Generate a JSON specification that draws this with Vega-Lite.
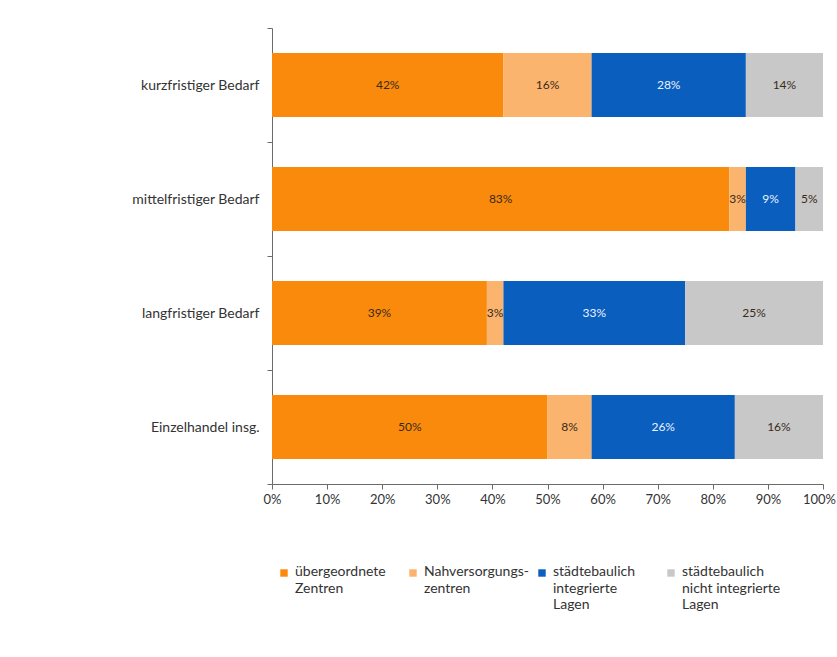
{
  "$schema": "https://vega.github.io/schema/vega-lite/v6.json",
  "autosize": {"type": "none"},
  "width": 551,
  "height": 456,
  "padding": {"left": 272, "top": 28, "right": 14, "bottom": 173},
  "background": "white",
  "config": {
    "font": "Lato",
    "view": {"stroke": null}
  },
  "data": {
    "values": [
      {"Kategorie": "kurzfristiger Bedarf", "Serie": "übergeordnete Zentren", "o": 1, "Anteil": 0.42},
      {"Kategorie": "kurzfristiger Bedarf", "Serie": "Nahversorgungszentren", "o": 2, "Anteil": 0.16},
      {"Kategorie": "kurzfristiger Bedarf", "Serie": "städtebaulich integrierte Lagen", "o": 3, "Anteil": 0.28},
      {"Kategorie": "kurzfristiger Bedarf", "Serie": "städtebaulich nicht integrierte Lagen", "o": 4, "Anteil": 0.14},
      {"Kategorie": "mittelfristiger Bedarf", "Serie": "übergeordnete Zentren", "o": 1, "Anteil": 0.83},
      {"Kategorie": "mittelfristiger Bedarf", "Serie": "Nahversorgungszentren", "o": 2, "Anteil": 0.03},
      {"Kategorie": "mittelfristiger Bedarf", "Serie": "städtebaulich integrierte Lagen", "o": 3, "Anteil": 0.09},
      {"Kategorie": "mittelfristiger Bedarf", "Serie": "städtebaulich nicht integrierte Lagen", "o": 4, "Anteil": 0.05},
      {"Kategorie": "langfristiger Bedarf", "Serie": "übergeordnete Zentren", "o": 1, "Anteil": 0.39},
      {"Kategorie": "langfristiger Bedarf", "Serie": "Nahversorgungszentren", "o": 2, "Anteil": 0.03},
      {"Kategorie": "langfristiger Bedarf", "Serie": "städtebaulich integrierte Lagen", "o": 3, "Anteil": 0.33},
      {"Kategorie": "langfristiger Bedarf", "Serie": "städtebaulich nicht integrierte Lagen", "o": 4, "Anteil": 0.25},
      {"Kategorie": "Einzelhandel insg.", "Serie": "übergeordnete Zentren", "o": 1, "Anteil": 0.50},
      {"Kategorie": "Einzelhandel insg.", "Serie": "Nahversorgungszentren", "o": 2, "Anteil": 0.08},
      {"Kategorie": "Einzelhandel insg.", "Serie": "städtebaulich integrierte Lagen", "o": 3, "Anteil": 0.26},
      {"Kategorie": "Einzelhandel insg.", "Serie": "städtebaulich nicht integrierte Lagen", "o": 4, "Anteil": 0.16}
    ]
  },
  "encoding": {
    "y": {
      "field": "Kategorie",
      "type": "nominal",
      "sort": ["kurzfristiger Bedarf", "mittelfristiger Bedarf", "langfristiger Bedarf", "Einzelhandel insg."],
      "scale": {"paddingInner": 0, "paddingOuter": 0},
      "axis": {
        "title": null,
        "tickBand": "extent",
        "domainColor": "#6b6b6b",
        "tickColor": "#6b6b6b",
        "tickSize": 5,
        "labelFontSize": 14,
        "labelColor": "#333333",
        "labelPadding": 8
      }
    },
    "x": {
      "field": "Anteil",
      "type": "quantitative",
      "stack": "zero",
      "scale": {"domain": [0, 1], "nice": false},
      "axis": {
        "title": null,
        "format": ".0%",
        "values": [0, 0.1, 0.2, 0.3, 0.4, 0.5, 0.6, 0.7, 0.8, 0.9, 1],
        "grid": false,
        "domainColor": "#6b6b6b",
        "tickColor": "#6b6b6b",
        "tickSize": 5,
        "labelFontSize": 13,
        "labelColor": "#333333",
        "labelPadding": 4,
        "labelFlush": false,
        "labelOffset": {"condition": {"test": "datum.value == 1", "value": -4}, "value": 0}
      }
    },
    "order": {"field": "o", "type": "quantitative"}
  },
  "layer": [
    {
      "mark": {"type": "bar", "height": {"band": 0.56}},
      "encoding": {
        "color": {
          "field": "Serie",
          "type": "nominal",
          "scale": {
            "domain": ["übergeordnete Zentren", "Nahversorgungszentren", "städtebaulich integrierte Lagen", "städtebaulich nicht integrierte Lagen"],
            "range": ["#F98A0C", "#FBB46E", "#0A5EBE", "#C8C8C8"]
          },
          "legend": {
            "title": null,
            "orient": "none",
            "legendX": 5,
            "legendY": 538,
            "direction": "horizontal",
            "columns": 4,
            "gridAlign": "all",
            "columnPadding": 6,
            "symbolType": "square",
            "symbolSize": 55,
            "symbolStrokeWidth": 0,
            "labelFontSize": 14,
            "labelColor": "#333333",
            "labelOffset": 4,
            "labelLimit": 200,
            "labelBaseline": "top",
            "labelExpr": "datum.label == 'übergeordnete Zentren' ? ['übergeordnete', 'Zentren', ''] : datum.label == 'Nahversorgungszentren' ? ['Nahversorgungs-', 'zentren', ''] : datum.label == 'städtebaulich integrierte Lagen' ? ['städtebaulich', 'integrierte', 'Lagen'] : ['städtebaulich', 'nicht integrierte', 'Lagen']",
            "encode": {
              "labels": {"update": {"dy": {"value": -8}, "lineHeight": {"value": 16.5}}}
            }
          }
        }
      }
    },
    {
      "mark": {"type": "text", "fontSize": 12},
      "encoding": {
        "x": {"field": "Anteil", "type": "quantitative", "stack": "zero", "bandPosition": 0.5},
        "text": {"field": "Anteil", "type": "quantitative", "format": ".0%"},
        "color": {
          "condition": {"test": "datum.o == 3", "value": "#EAF2FF"},
          "value": "#3a2a1a"
        }
      }
    }
  ]
}
